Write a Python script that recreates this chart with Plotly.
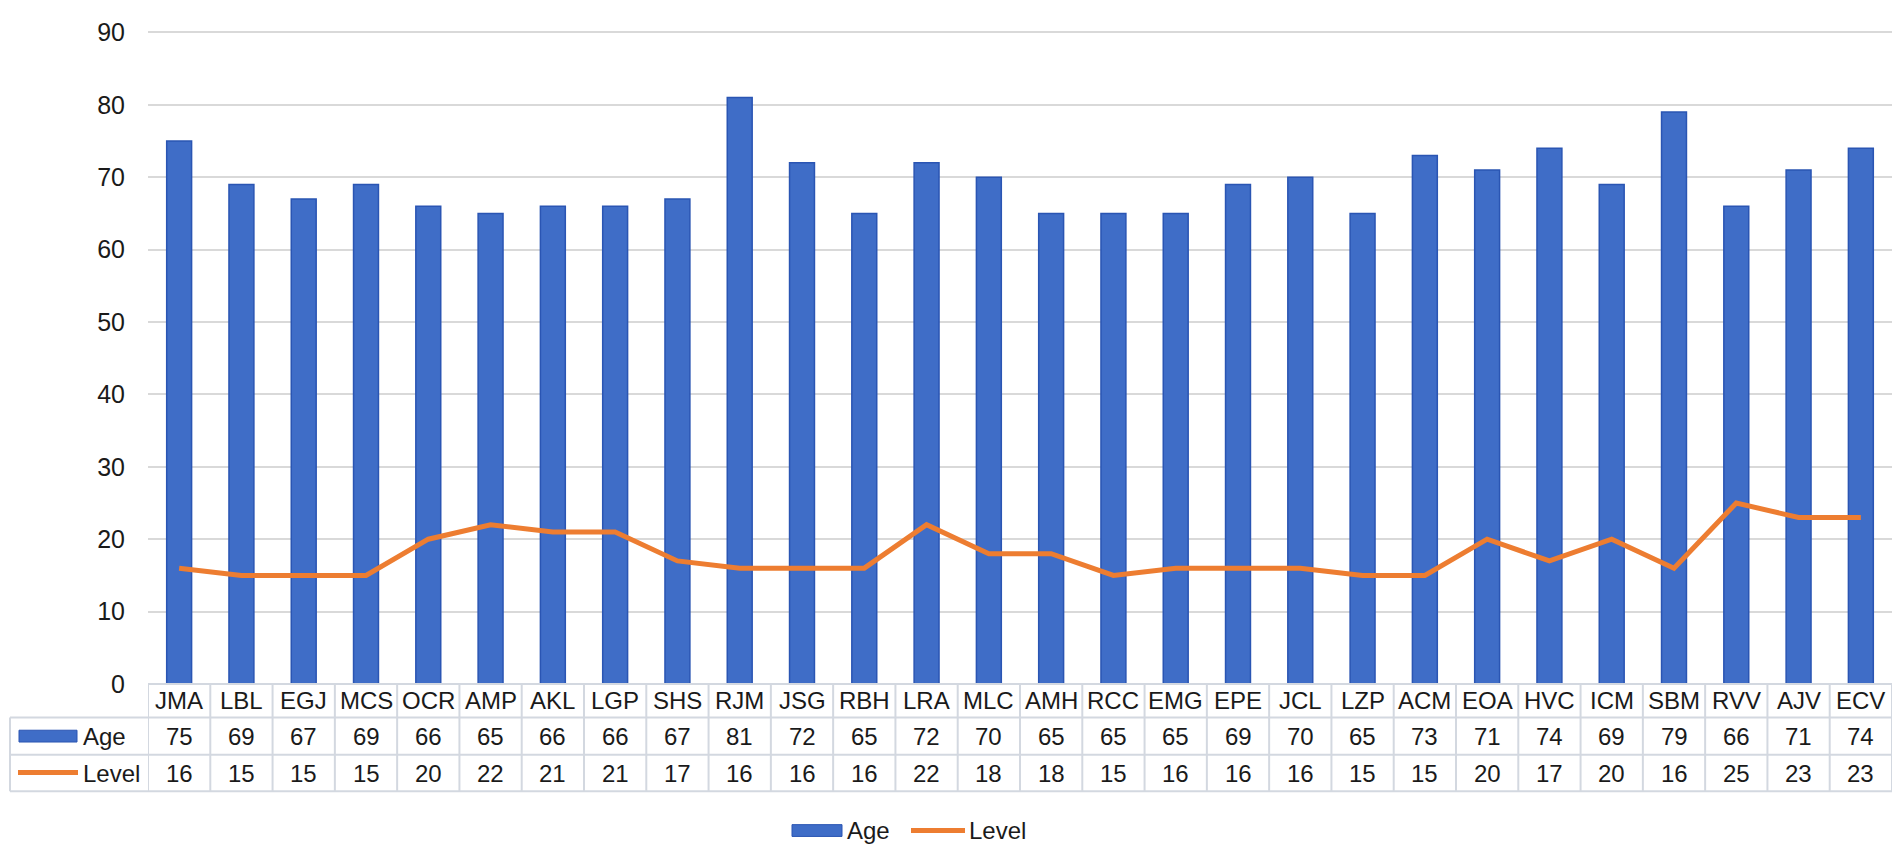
import plotly.graph_objects as go

names = ["JMA", "LBL", "EGJ", "MCS", "OCR", "AMP", "AKL", "LGP", "SHS", "RJM",
         "JSG", "RBH", "LRA", "MLC", "AMH", "RCC", "EMG", "EPE", "JCL", "LZP",
         "ACM", "EOA", "HVC", "ICM", "SBM", "RVV", "AJV", "ECV"]
age = [75, 69, 67, 69, 66, 65, 66, 66, 67, 81, 72, 65, 72, 70, 65, 65, 65, 69,
       70, 65, 73, 71, 74, 69, 79, 66, 71, 74]
level = [16, 15, 15, 15, 20, 22, 21, 21, 17, 16, 16, 16, 22, 18, 18, 15, 16, 16,
         16, 15, 15, 20, 17, 20, 16, 25, 23, 23]

BLUE = "#3F6DC7"
BLUE_EDGE = "#2A55B3"
ORANGE = "#ED7D31"
GRID = "#D9D9D9"
TABLE_LINE = "#D3D8E0"
TXT = "#1A1A1A"
FONT = "Liberation Sans, Arial, sans-serif"

# page body has an 8px margin, so the figure is shifted by OFF on screen
OFF = 8
W, H = 1902 - OFF, 856 - OFF
L, R, T, B = 148 - OFF, 10, 20 - OFF, 856 - 684
pw = W - L - R
ph = H - T - B
YMAX = 90.2  # a hair above 90 so the top gridline is drawn


def px(X):
    # screen pixel x -> paper x
    return (X - OFF - L) / pw


def py(Y):
    # screen pixel y (from top) -> paper y
    return (H - B - (Y - OFF)) / ph


fig = go.Figure()

fig.add_trace(go.Bar(
    x=names, y=age, name="Age",
    marker=dict(color=BLUE, line=dict(color=BLUE_EDGE, width=1.5)),
))
fig.add_trace(go.Scatter(
    x=names, y=level, name="Level", mode="lines",
    line=dict(color=ORANGE, width=5),
))

shapes = []
annotations = []

# data table grid
shapes.append(dict(type="line", xref="paper", yref="paper",
                   x0=0, x1=1, y0=py(684), y1=py(684),
                   line=dict(color=TABLE_LINE, width=2)))
for yy in [718, 756, 793]:
    shapes.append(dict(type="line", xref="paper", yref="paper",
                       x0=px(10), x1=1, y0=py(yy), y1=py(yy),
                       line=dict(color=TABLE_LINE, width=2)))
shapes.append(dict(type="line", xref="paper", yref="paper",
                   x0=px(10), x1=px(10), y0=py(718), y1=py(793),
                   line=dict(color=TABLE_LINE, width=2)))
for k in range(len(names) + 1):
    shapes.append(dict(type="line", xref="x", yref="paper",
                       x0=k - 0.5, x1=k - 0.5, y0=py(684), y1=py(793),
                       line=dict(color=TABLE_LINE, width=2)))

cell_font = dict(family=FONT, size=24, color=TXT)
for i, n in enumerate(names):
    for yy, txt in [(701, n), (737, str(age[i])), (775, str(level[i]))]:
        annotations.append(dict(x=n, xref="x", y=py(yy), yref="paper", text=txt,
                                xanchor="center", yanchor="middle",
                                showarrow=False, font=cell_font))

# legend keys inside the table
shapes.append(dict(type="rect", xref="paper", yref="paper",
                   x0=px(19), x1=px(77), y0=py(743), y1=py(731),
                   fillcolor=BLUE, line=dict(color=BLUE_EDGE, width=1)))
shapes.append(dict(type="line", xref="paper", yref="paper",
                   x0=px(18), x1=px(78), y0=py(774), y1=py(774),
                   line=dict(color=ORANGE, width=5)))
for yy, txt in [(737, "Age"), (775, "Level")]:
    annotations.append(dict(x=px(81), y=py(yy), xref="paper", yref="paper", text=txt,
                            xanchor="left", yanchor="middle",
                            showarrow=False, font=cell_font))

# bottom legend
shapes.append(dict(type="rect", xref="paper", yref="paper",
                   x0=px(792), x1=px(842), y0=py(839), y1=py(827),
                   fillcolor=BLUE, line=dict(color=BLUE_EDGE, width=1)))
shapes.append(dict(type="line", xref="paper", yref="paper",
                   x0=px(911), x1=px(965), y0=py(833), y1=py(833),
                   line=dict(color=ORANGE, width=5)))
for xx, txt in [(845, "Age"), (967, "Level")]:
    annotations.append(dict(x=px(xx), y=py(833), xref="paper", yref="paper", text=txt,
                            xanchor="left", yanchor="middle",
                            showarrow=False, font=cell_font))

fig.update_layout(
    width=W, height=H,
    margin=dict(l=L, r=R, t=T, b=B),
    paper_bgcolor="white", plot_bgcolor="white",
    showlegend=False,
    bargap=0.6,
    font=dict(family=FONT, color=TXT),
    xaxis=dict(type="category", range=[-0.5, len(names) - 0.5],
               showticklabels=False, showgrid=False, zeroline=False, showline=False),
    yaxis=dict(range=[0, YMAX], tickvals=list(range(0, 91, 10)), showgrid=True,
               gridcolor=GRID, gridwidth=2, zeroline=False, showline=False, ticks="",
               ticklabeloverflow="allow", ticklabelstandoff=22,
               tickfont=dict(family=FONT, size=25, color=TXT)),
    shapes=shapes,
    annotations=annotations,
)

fig.write_html("out.html")
